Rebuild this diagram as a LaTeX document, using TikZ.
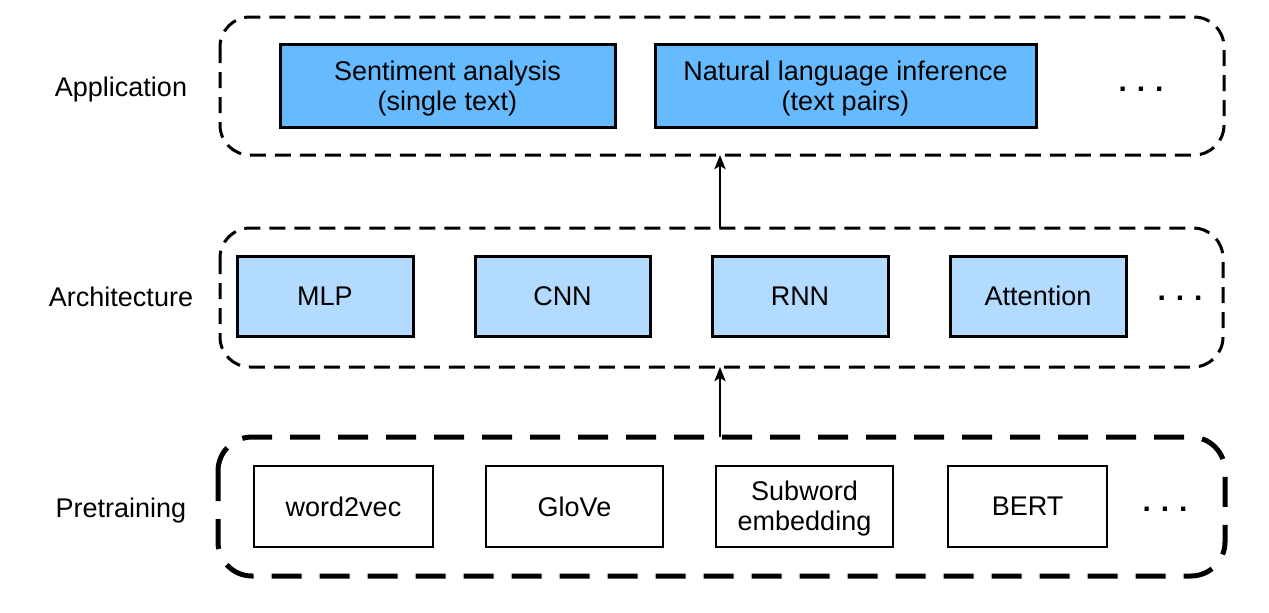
\documentclass[tikz,border=0pt]{standalone}
\usepackage{fontspec}
\setmainfont{Liberation Sans}
\usetikzlibrary{arrows.meta}
\definecolor{appfill}{HTML}{66BBFF}
\definecolor{archfill}{HTML}{B3DAFF}
\begin{document}
\begin{tikzpicture}[x=1pt,y=-1pt,
  lbl/.style={font=\fontsize{27}{30}\selectfont, inner sep=0pt, anchor=base},
  group/.style={draw, line width=3pt, dash pattern=on 16pt off 9pt, rounded corners=30pt},
  pregroup/.style={draw, line width=5pt, dash pattern=on 30pt off 18pt, rounded corners=34pt},
  box/.style={draw, font=\fontsize{27}{30}\selectfont, align=center, inner sep=0pt},
  appbox/.style={box, line width=3pt, fill=appfill, text depth=0pt},
  archbox/.style={box, line width=3pt, fill=archfill},
  prebox/.style={box, line width=2pt, fill=white},
  dots/.style={font=\fontsize{30}{30}\selectfont\bfseries, inner sep=0pt, anchor=base},
  uparrow/.style={line width=2.6pt, -{Stealth[length=14pt,width=11pt,inset=3pt]}}
]
\useasboundingbox (0,0) rectangle (1269,613);

% layer containers
\draw[group] (220,17) rectangle (1224,155);
\draw[group] (220,228) rectangle (1223,367);
\draw[pregroup] (218,437) rectangle (1225,576);

% row labels
\node[lbl] (lapp) at (121,96) {Application};
\node[lbl] (larch) at (121,306) {Architecture};
\node[lbl] (lpre) at (121,517) {Pretraining};

% application tasks
\node[appbox, minimum width=335pt, minimum height=83pt] (sent) at (447.5,85.5) {Sentiment analysis\\(single text)};
\node[appbox, minimum width=381pt, minimum height=83pt] (nli) at (845.5,85.5) {Natural language inference\\(text pairs)};
\node[dots] (appdots) at (1141,91) {.\,\,.\,\,.};

% architectures
\node[archbox, minimum width=176pt, minimum height=80pt] (mlp) at (325,296) {MLP};
\node[archbox, minimum width=175pt, minimum height=80pt] (cnn) at (562.5,296) {CNN};
\node[archbox, minimum width=176pt, minimum height=80pt] (rnn) at (800,296) {RNN};
\node[archbox, minimum width=176pt, minimum height=80pt] (att) at (1038,296) {Attention};
\node[dots] (archdots) at (1180,300) {.\,\,.\,\,.};

% pretraining methods
\node[prebox, minimum width=179pt, minimum height=81pt] (w2v) at (343.5,506.5) {word2vec};
\node[prebox, minimum width=177pt, minimum height=81pt] (glove) at (574.5,506.5) {GloVe};
\node[prebox, minimum width=177pt, minimum height=81pt, text depth=1pt] (sub) at (804.5,506.5) {Subword\\embedding};
\node[prebox, minimum width=159pt, minimum height=81pt] (bert) at (1027.5,506.5) {BERT};
\node[dots] (predots) at (1165,511) {.\,\,.\,\,.};

% links between layers
\coordinate (preTop) at (720,437);
\coordinate (archBot) at (720,367);
\coordinate (archTop) at (720,228);
\coordinate (appBot) at (720,155);
\draw[uparrow] (preTop) -- (archBot);
\draw[uparrow] (archTop) -- (appBot);
\end{tikzpicture}
\end{document}
